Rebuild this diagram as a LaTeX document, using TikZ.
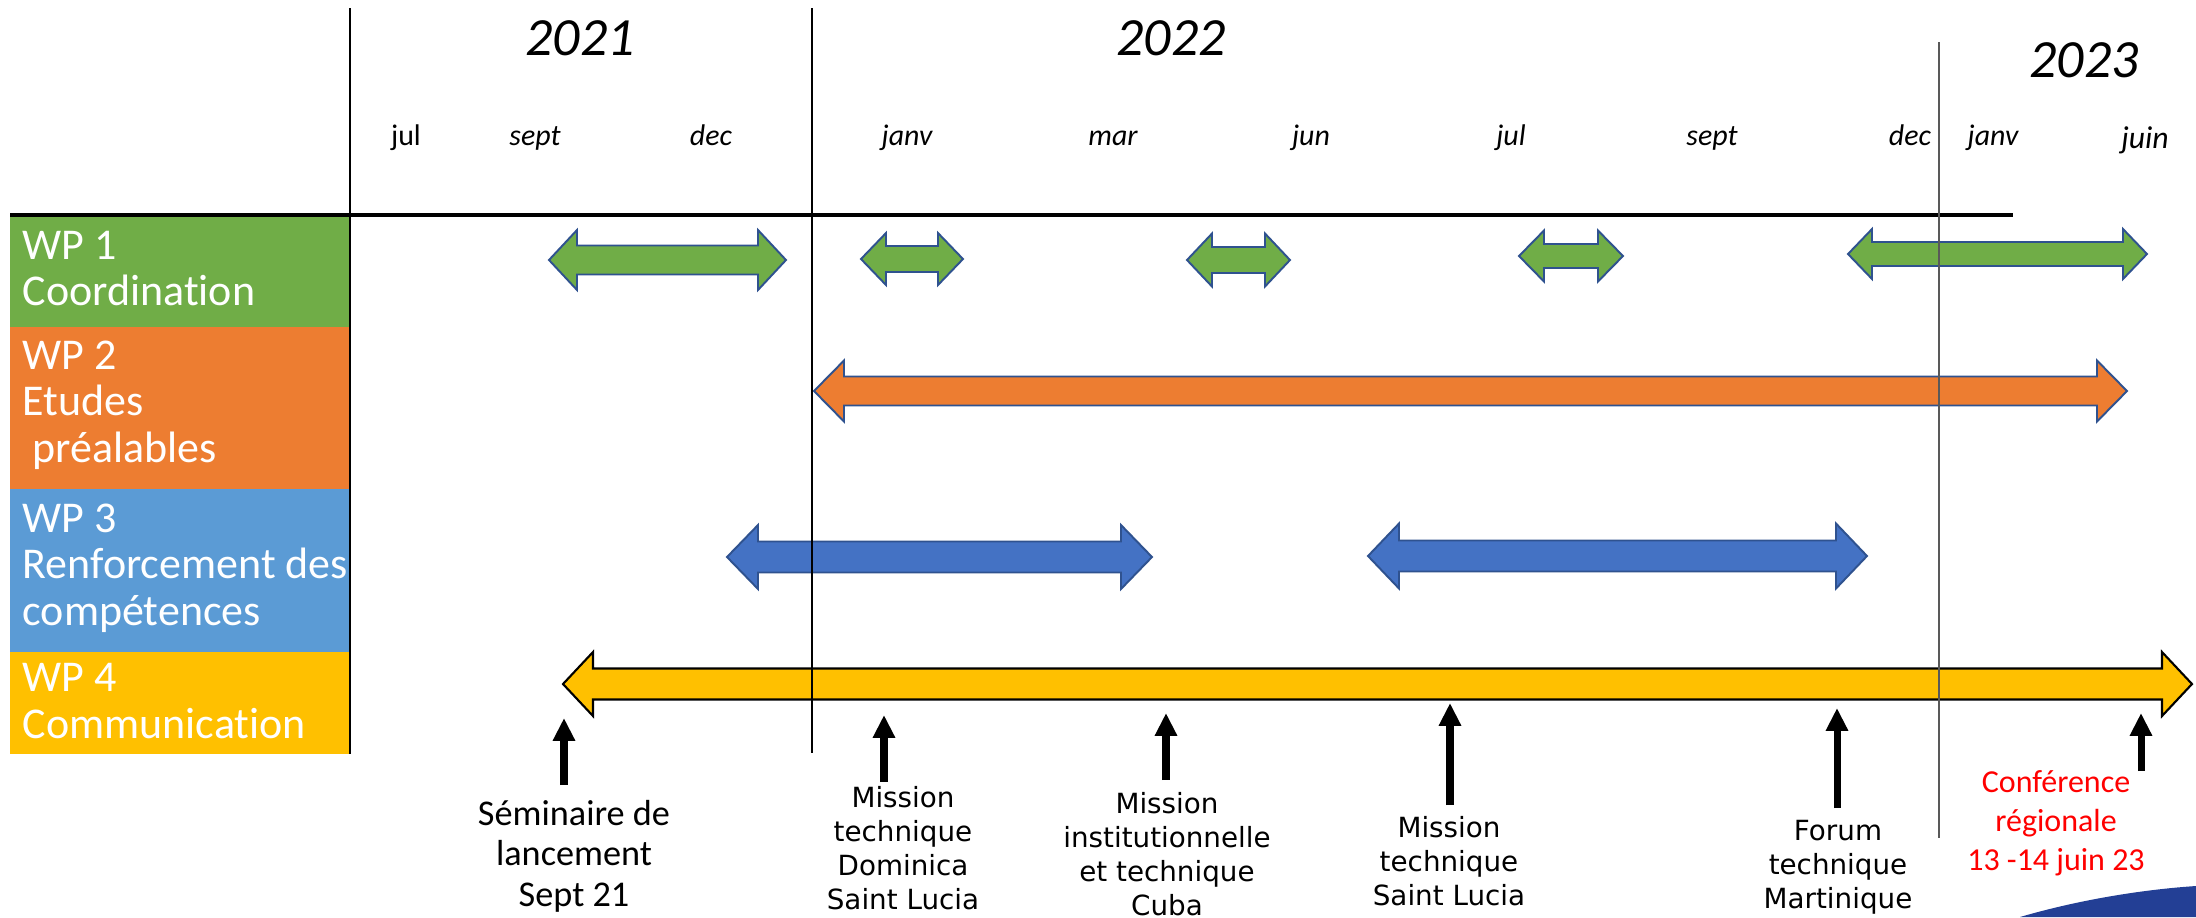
\documentclass[tikz,border=0pt]{standalone}
\usepackage{fontspec}
\setmainfont{Carlito}[Ligatures=NoCommon]
\newfontfamily\verdfont{DejaVu Sans}
\usetikzlibrary{arrows.meta}

\definecolor{wpgreen}{HTML}{70AD47}
\definecolor{wporange}{HTML}{ED7D31}
\definecolor{wpblue}{HTML}{5B9BD5}
\definecolor{wpdarkblue}{HTML}{4472C4}
\definecolor{wpyellow}{HTML}{FFC000}
\definecolor{wpedge}{HTML}{2F528F}
\definecolor{logoblue}{HTML}{233F95}

\tikzset{
  wplabel/.style={anchor=north west, inner sep=0pt, align=left, text=white,
    font=\fontsize{12.5pt}{13.2pt}\selectfont},
  yearlbl/.style={anchor=base, inner sep=0pt, font=\fontsize{15.3pt}{18pt}\selectfont\itshape},
  monthlbl/.style={anchor=base, inner sep=0pt, font=\fontsize{8.5pt}{10pt}\selectfont\itshape},
  eventlbl/.style={anchor=north, inner sep=0pt, align=center,
    font=\verdfont\fontsize{7.9pt}{9.6pt}\selectfont},
  bigevent/.style={anchor=north, inner sep=0pt, align=center,
    font=\fontsize{10.3pt}{11.4pt}\selectfont},
  confevent/.style={bigevent, text=red, font=\fontsize{9.1pt}{11pt}\selectfont},
  evarrow/.style={line width=2pt, -{Triangle[length=6.5pt,width=6pt]}},
  wparr/.style={draw=wpedge, line width=0.55pt, line join=miter}
}

% style, left tip, right tip, y, head half, shaft half, head length
\newcommand{\wparrow}[7]{%
  \draw[wparr,#1] (#2,#4) -- ({#2+#7},{#4-#5}) -- ({#2+#7},{#4-#6})
    -- ({#3-#7},{#4-#6}) -- ({#3-#7},{#4-#5}) -- (#3,#4)
    -- ({#3-#7},{#4+#5}) -- ({#3-#7},{#4+#6}) -- ({#2+#7},{#4+#6})
    -- ({#2+#7},{#4+#5}) -- cycle;}

\begin{document}
\begin{tikzpicture}[x=0.01cm, y=-0.01cm]
\useasboundingbox (0,0) rectangle (2196,917);

% logo corner
\fill[logoblue] (2020,917) .. controls (2085,898) and (2150,889) .. (2196,886) -- (2196,917) -- cycle;

% work packages
\fill[wpgreen] (10,216) rectangle (350,327);
\fill[wporange] (10,327) rectangle (350,489);
\fill[wpblue] (10,489) rectangle (350,652);
\fill[wpyellow] (10,652) rectangle (350,754);
\node[wplabel] (wp1) at (22,230) {WP 1\\Coordination};
\node[wplabel] (wp2) at (22,340) {WP 2\\Etudes\\\ préalables};
\node[wplabel] (wp3) at (22,503) {WP 3\\Renforcement des\\compétences};
\node[wplabel] (wp4) at (22,663) {WP 4\\Communication};

% years and months
\node[yearlbl] (y2021) at (580,55) {2021};
\node[yearlbl] (y2022) at (1171,55) {2022};
\node[yearlbl] (y2023) at (2084,77) {2023};
\foreach \mx/\mname [count=\i] in {406/{\upshape jul}, 535/sept, 711/dec, 907/janv,
    1113/mar, 1311/jun, 1511/jul, 1712/sept, 1910/dec, 1993/janv}
  \node[monthlbl] (m\i) at (\mx,145) {\mname};
\node[monthlbl, font=\fontsize{9pt}{11pt}\selectfont\itshape] (juin) at (2145,148) {juin};

% activity arrows
\wparrow{fill=wpgreen}{549}{786}{260}{30}{14.5}{28}
\wparrow{fill=wpgreen}{861}{963}{259}{26}{13}{25}
\wparrow{fill=wpgreen}{1187}{1290}{260}{26.5}{13}{25}
\wparrow{fill=wpgreen}{1519}{1623}{256}{25.5}{12}{25}
\wparrow{fill=wpgreen}{1848}{2147}{254}{25}{12}{24}
\wparrow{fill=wporange}{814}{2127}{391}{30.5}{14.5}{30}
\wparrow{fill=wpdarkblue}{727}{1152}{557}{32}{15.5}{31}
\wparrow{fill=wpdarkblue}{1368}{1867}{556}{32.5}{15.5}{31}
\wparrow{fill=wpyellow, draw=black, line width=0.6pt}{563}{2192}{684}{32}{15.5}{30}

% grid lines
\draw[line width=1.1pt] (10,215) -- (2013,215);
\draw[line width=0.6pt] (350,8) -- (350,754);
\draw[line width=0.6pt] (812,8) -- (812,753);
\draw[line width=0.45pt, black!65] (1939,42) -- (1939,838);

% events
\foreach \ex/\etip/\ebot [count=\i] in {564/718/785, 884/715/782, 1166/713/780,
    1450/703/805, 1837/708/808, 2141/713/771} {
  \coordinate (t\i) at (\ex,\etip);
  \coordinate (b\i) at (\ex,\ebot);
  \draw[evarrow] (b\i) -- (t\i);
}
\node[bigevent] (sem) at (574,800) {Séminaire de\\lancement\\Sept 21};
\node[eventlbl] (domi) at (903,786) {Mission\\technique\\Dominica\\Saint Lucia};
\node[eventlbl] (cuba) at (1167,792) {Mission\\institutionnelle\\et technique\\Cuba};
\node[eventlbl] (lucia) at (1449,816) {Mission\\technique\\Saint Lucia};
\node[eventlbl] (forum) at (1838,820) {Forum\\technique\\Martinique};
\node[confevent] (conf) at (2056,770) {Conférence\\régionale\\13 -14 juin 23};
\end{tikzpicture}
\end{document}
